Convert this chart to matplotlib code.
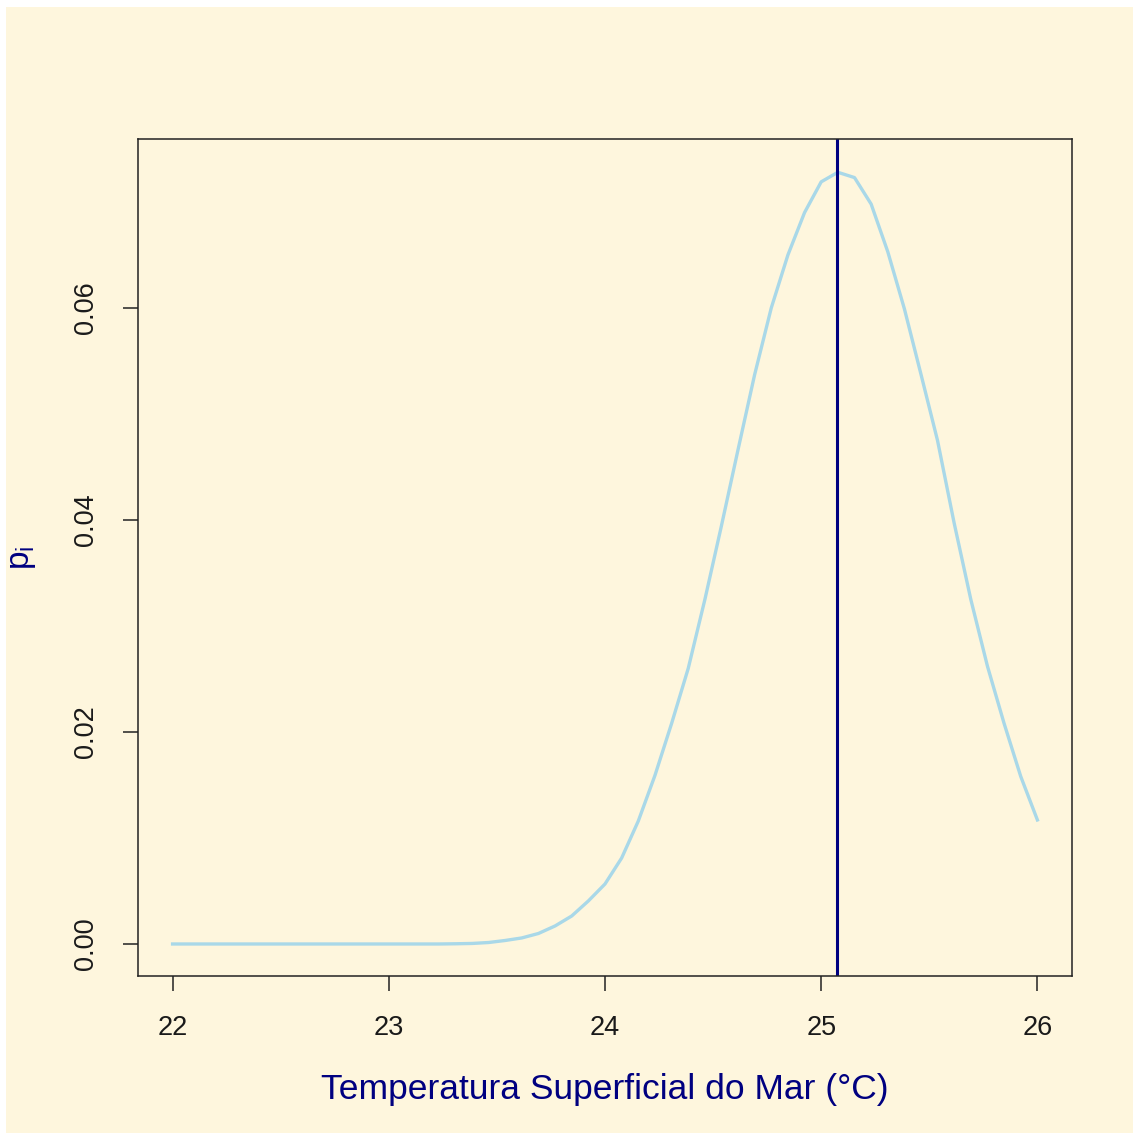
import matplotlib
matplotlib.use("Agg")
import matplotlib.pyplot as plt
from matplotlib.patches import Rectangle

plt.rcParams['font.family'] = ['Liberation Sans', 'DejaVu Sans']

# grade de temperaturas (53 pontos entre 22 e 26)
temp = [22.000, 22.077, 22.154, 22.231, 22.308, 22.385, 22.462, 22.538, 22.615,
        22.692, 22.769, 22.846, 22.923, 23.000, 23.077, 23.154, 23.231, 23.308,
        23.385, 23.462, 23.538, 23.615, 23.692, 23.769, 23.846, 23.923, 24.000,
        24.077, 24.154, 24.231, 24.308, 24.385, 24.462, 24.538, 24.615, 24.692,
        24.769, 24.846, 24.923, 25.000, 25.077, 25.154, 25.231, 25.308, 25.385,
        25.462, 25.538, 25.615, 25.692, 25.769, 25.846, 25.923, 26.000]

# probabilidades p_i
p_i = [0.0, 0.0, 0.0, 0.0, 0.0, 0.0, 0.0, 0.0, 0.0,
       0.0, 0.0, 0.0, 0.0, 0.0, 0.0, 0.0, 0.0, 0.00002,
       0.00005, 0.00014, 0.00033, 0.00057, 0.00099, 0.0017, 0.00264, 0.00406, 0.00566,
       0.00811, 0.0116, 0.0159, 0.0208, 0.0260, 0.0325, 0.0394, 0.0466, 0.0537,
       0.0600, 0.0650, 0.0690, 0.0719, 0.0728, 0.0723, 0.0698, 0.0653, 0.0599,
       0.0537, 0.0475, 0.0397, 0.0325, 0.0262, 0.0208, 0.0158, 0.0117]

media = 25.074

xticks = [22, 23, 24, 25, 26]
yticks = [0.00, 0.02, 0.04, 0.06]

creme = '#fef6dd'

fig = plt.figure(figsize=(11.37, 11.35), dpi=100, facecolor='white')
fig.patches.append(Rectangle((6 / 1137, 2 / 1135), 1127 / 1137, 1126 / 1135,
                             transform=fig.transFigure, facecolor=creme,
                             edgecolor='none', zorder=-5))

ax = fig.add_axes([138 / 1137, 159 / 1135, 934 / 1137, 837 / 1135])
ax.set_facecolor(creme)

ax.plot(temp, p_i, color='#a9d8e8', lw=2.4, solid_joinstyle='round')
ax.axvline(media, color='#000080', lw=2.2)

ax.set_xlim(21.84, 26.16)
ax.set_ylim(-0.00302, 0.07594)

ax.set_xticks(xticks)
ax.set_xticklabels([str(t) for t in xticks])
ax.set_yticks(yticks)
ax.set_yticklabels(['%.2f' % t for t in yticks], rotation=90, va='center')

ax.tick_params(axis='both', length=11, width=1.1, colors='#222222',
               labelsize=19.5, labelcolor='#1a1a1a')
ax.tick_params(axis='x', pad=17)
ax.tick_params(axis='y', pad=17)

for s in ax.spines.values():
    s.set_linewidth(1.1)
    s.set_color('#222222')

ax.set_xlabel('Temperatura Superficial do Mar (°C)', fontsize=25.5, color='#000080')
ax.xaxis.set_label_coords(0.5, -0.136)
ax.xaxis.label.set_va('center')

ax.set_ylabel(r'$\mathregular{p_i}$', fontsize=24, color='#000080')
ax.yaxis.set_label_coords(-0.124, 0.5)
ax.yaxis.label.set_va('center')

fig.savefig('out.png', dpi=100, facecolor='white')
